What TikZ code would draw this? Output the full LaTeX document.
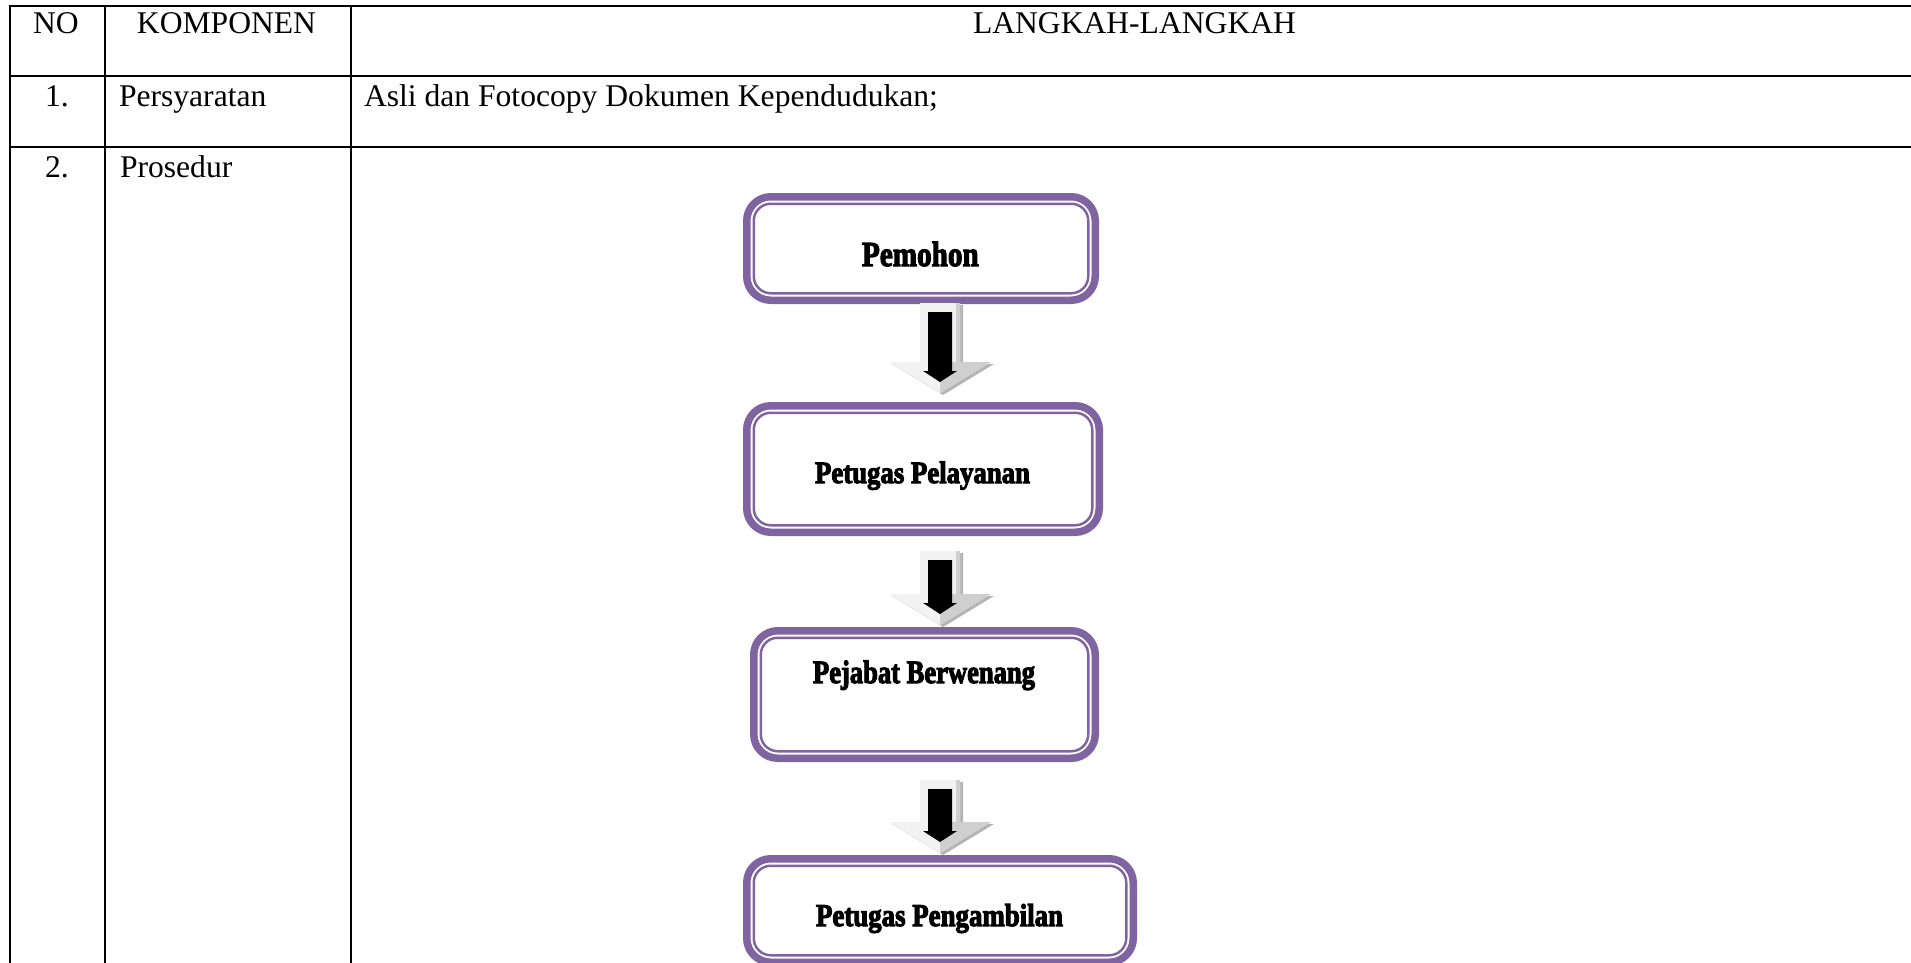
\documentclass[tikz,border=0pt]{standalone}
\usepackage{fontspec}
\setmainfont{Liberation Serif}
\newfontfamily\boxfont{Liberation Serif}[BoldFeatures={FakeBold=3.5}]
\usetikzlibrary{calc}

\definecolor{boxpurple}{HTML}{8064A2}
\definecolor{arrowlight}{HTML}{F2F2F2}
\definecolor{arrowmid}{HTML}{CFCFCF}
\definecolor{arrowdark}{HTML}{B4B4B4}

% condensed heavy label, stretched to a given width and height
\newcommand{\boxlabel}[3]{\resizebox{#1pt}{#2pt}{\boxfont\bfseries #3}}

% shaded block arrow with a black arrow inside, from coordinate #1 down to #2
\newcommand{\blockarrow}[2]{%
  \pgfpointanchor{#1}{center}\pgfgetlastxy{\arax}{\aray}%
  \pgfpointanchor{#2}{center}\pgfgetlastxy{\arbx}{\arby}%
  \pgfmathsetmacro{\alen}{\aray-\arby}%
  \begin{scope}[shift={(#1)}]
    \fill[arrowdark, shift={(3,2)}]
      (-20,0) -- (20,0) -- (20,{\alen-31}) -- (51,{\alen-31}) -- (0,\alen)
      -- (-51,{\alen-31}) -- (-20,{\alen-31}) -- cycle;
    \fill[arrowlight]
      (-20,0) -- (20,0) -- (20,{\alen-31}) -- (51,{\alen-31}) -- (0,\alen)
      -- (-51,{\alen-31}) -- (-20,{\alen-31}) -- cycle;
    \fill[arrowmid] (0,{\alen-31}) -- (51,{\alen-31}) -- (0,\alen) -- cycle;
    \fill[arrowmid] (16,0) rectangle (20,{\alen-31});
    \fill[black]
      (-12,9) -- (12,9) -- (12,{\alen-22}) -- (17,{\alen-22}) -- (0,{\alen-11})
      -- (-17,{\alen-22}) -- (-12,{\alen-22}) -- cycle;
  \end{scope}}

\tikzset{
  rule/.style={line width=2pt, black},
  celltext/.style={inner sep=0pt, outer sep=0pt, font=\fontsize{31.6}{38}\selectfont},
  flowbox/.style={draw=boxpurple, line width=7.5pt, rounded corners=24pt,
    fill=white, inner sep=0pt, outer sep=0pt},
  innerframe/.style={draw=boxpurple, line width=2.5pt, rounded corners=17pt},
  boxtext/.style={inner sep=0pt, outer sep=0pt, anchor=base west},
}

\begin{document}
\begin{tikzpicture}[x=1pt, y=-1pt]
  \useasboundingbox (0,0) rectangle (1911,963);
  \clip (0,0) rectangle (1911,963);

  % table rules
  \draw[rule] (10,963) -- (10,6) -- (1911,6);
  \draw[rule] (10,76) -- (1911,76);
  \draw[rule] (10,147) -- (1911,147);
  \draw[rule] (105,6) -- (105,963);
  \draw[rule] (351,6) -- (351,963);

  % header row
  \node[celltext, anchor=base] (hno) at (56,34) {NO};
  \node[celltext, anchor=base] (hkomp) at (226.5,34) {KOMPONEN};
  \node[celltext, anchor=base] (hlangkah) at (1134.5,34) {LANGKAH-LANGKAH};

  % row 1
  \node[celltext, anchor=base west] (r1no) at (45,107) {1.};
  \node[celltext, anchor=base west] (r1komp) at (119,107) {Persyaratan};
  \node[celltext, anchor=base west] (r1text) at (364,107) {Asli dan Fotocopy Dokumen Kependudukan;};

  % row 2
  \node[celltext, anchor=base west] (r2no) at (45,177) {2.};
  \node[celltext, anchor=base west] (r2komp) at (120,177) {Prosedur};

  % procedure boxes
  \node[flowbox, minimum width=348.5pt, minimum height=103.5pt] (b1) at (921,248.5) {};
  \node[flowbox, minimum width=352.5pt, minimum height=126.5pt] (b2) at (923,469) {};
  \node[flowbox, minimum width=341.5pt, minimum height=127.5pt] (b3) at (924.5,694.5) {};
  \node[flowbox, minimum width=386.5pt, minimum height=103.5pt] (b4) at (940,910.5) {};
  \foreach \b in {b1,b2,b3,b4}
    \draw[innerframe] ([shift={(7,7)}]\b.north west) rectangle ([shift={(-7,-7)}]\b.south east);

  \node[boxtext] (t1) at (862,266) {\boxlabel{116.7}{24.3}{Pemohon}};
  \node[boxtext] (t2) at (815,483) {\boxlabel{215}{21.5}{Petugas Pelayanan}};
  \node[boxtext] (t3) at (813,683) {\boxlabel{222}{22.5}{Pejabat Berwenang}};
  \node[boxtext] (t4) at (816,926) {\boxlabel{247}{22}{Petugas Pengambilan}};

  % arrows between the boxes
  \coordinate (a1s) at (940,303);
  \coordinate (a1e) at (940,393);
  \coordinate (a2s) at (940,551);
  \coordinate (a2e) at (940,625);
  \coordinate (a3s) at (940,780);
  \coordinate (a3e) at (940,853);
  \blockarrow{a1s}{a1e}
  \blockarrow{a2s}{a2e}
  \blockarrow{a3s}{a3e}
\end{tikzpicture}
\end{document}
